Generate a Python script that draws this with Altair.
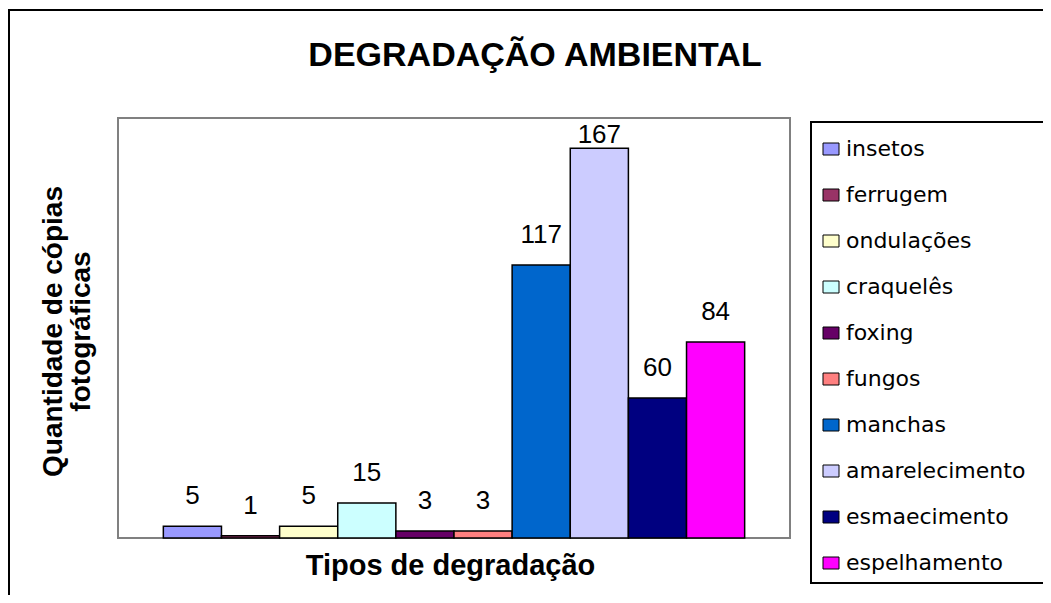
import altair as alt
import pandas as pd

categories = ["insetos", "ferrugem", "ondulações", "craquelês", "foxing", "fungos",
              "manchas", "amarelecimento", "esmaecimento", "espelhamento"]
values = [5, 1, 5, 15, 3, 3, 117, 167, 60, 84]
colors = ["#9999FF", "#993366", "#FFFFCC", "#CCFFFF", "#660066", "#FF8080",
          "#0066CC", "#CCCCFF", "#000080", "#FF00FF"]

df = pd.DataFrame({"tipo": categories, "qtd": values})

W, H = 672, 420

xenc = alt.X("tipo:N", sort=categories,
             scale=alt.Scale(paddingInner=0, paddingOuter=0.78),
             axis=alt.Axis(title="Tipos de degradação", labels=False, ticks=False,
                           domain=False, titleFont="Liberation Sans", titleFontSize=29,
                           titleFontWeight="bold", titleColor="black",
                           titleBaseline="alphabetic", titleX=332, titleY=36))
yscale = alt.Scale(domain=[0, 180], nice=False)

bars = alt.Chart(df).mark_bar(stroke="black", strokeWidth=1.5).encode(
    x=xenc,
    y=alt.Y("qtd:Q", scale=yscale,
            axis=alt.Axis(title=["Quantidade de cópias", "fotográficas"], labels=False,
                          ticks=False, domain=False, grid=False,
                          titleFont="Liberation Sans", titleFontSize=28,
                          titleFontWeight="bold", titleColor="black",
                          titleAngle=270, titleBaseline="alphabetic",
                          titleAlign="center", titleX=-57, titleY=213,
                          titleLineHeight=28)),
    color=alt.Color("tipo:N", sort=categories,
                    scale=alt.Scale(domain=categories, range=colors),
                    legend=alt.Legend(orient="none", legendX=702, legendY=20, title=None,
                                      labelFont="DejaVu Sans", labelFontSize=22,
                                      labelColor="black", labelLimit=400,
                                      symbolType="M-1,-0.75H1V0.75H-1Z", symbolSize=256,
                                      symbolStrokeColor="black", symbolStrokeWidth=1,
                                      symbolOpacity=1, rowPadding=24, labelOffset=4,
                                      padding=0)),
)

labels = alt.Chart(df).transform_calculate(
    ly="min(datum.qtd + 9.4, 169.5)"
).mark_text(font="Liberation Sans", fontSize=26, color="black",
            baseline="alphabetic", align="center").encode(
    x=alt.X("tipo:N", sort=categories),
    y=alt.Y("ly:Q", scale=yscale),
    text=alt.Text("qtd:Q"),
)

frame = alt.Chart(alt.Data(values=[{}])).mark_rect(
    fill=None, stroke="black", strokeWidth=2).encode(
    x=alt.value(-109), x2=alt.value(1100), y=alt.value(-108), y2=alt.value(800))

legend_box = alt.Chart(alt.Data(values=[{}])).mark_rect(
    fill=None, stroke="black", strokeWidth=2).encode(
    x=alt.value(693), x2=alt.value(1100), y=alt.value(4), y2=alt.value(465))

chart = alt.layer(frame, legend_box, bars, labels).properties(
    width=W, height=H,
    autosize=alt.AutoSizeParams(type="none"),
    padding={"left": 110, "top": 110, "right": 253, "bottom": 57},
    title=alt.Title("DEGRADAÇÃO AMBIENTAL", font="Liberation Sans", fontSize=34,
                    fontWeight="bold", color="black", anchor="middle", frame="group",
                    dx=81, offset=0, dy=91, baseline="alphabetic"),
    background="white",
).configure_view(stroke="#808080", strokeWidth=2)

chart.save("out.html", embed_options={"renderer": "svg", "actions": False})
